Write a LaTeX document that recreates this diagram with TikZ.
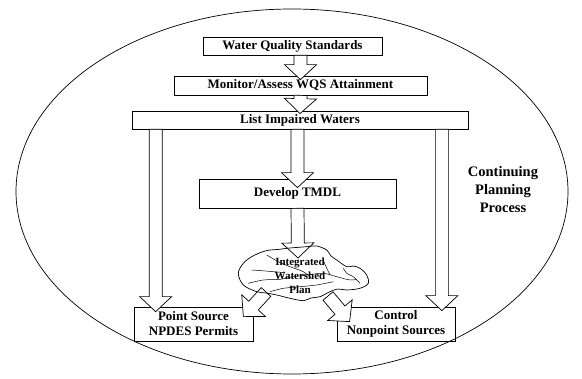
\documentclass[tikz,border=0pt]{standalone}
\usepackage{fontspec}
\setmainfont{Liberation Serif}
\usetikzlibrary{calc}

\begin{document}
\begin{tikzpicture}[x=1pt, y=-1pt, line width=0.7pt,
    box/.style={draw, rectangle, inner sep=0pt, align=center, font=\fontsize{13}{15}\selectfont\bfseries},
    fat/.style={draw, fill=white, line join=miter, to path={
        let \p1=($(\tikztotarget)-(\tikztostart)$), \n1={atan2(\y1,\x1)}, \n2={veclen(\x1,\y1)} in
        ([shift={(\tikztostart)}, rotate=\n1]0pt,-6.5pt)
        -- ([shift={(\tikztostart)}, rotate=\n1]\n2-15pt,-6.5pt)
        -- ([shift={(\tikztostart)}, rotate=\n1]\n2-15pt,-16pt)
        -- ([shift={(\tikztostart)}, rotate=\n1]\n2,0pt)
        -- ([shift={(\tikztostart)}, rotate=\n1]\n2-15pt,16pt)
        -- ([shift={(\tikztostart)}, rotate=\n1]\n2-15pt,6.5pt)
        -- ([shift={(\tikztostart)}, rotate=\n1]0pt,6.5pt) -- cycle}}]
    \useasboundingbox (0,0) rectangle (582,379);
    \draw (292,191.5) ellipse [x radius=276pt, y radius=182.5pt];

    \node[box, minimum width=179pt, minimum height=18pt] (wqs) at (292.5,46) {Water Quality Standards};
    \node[box, minimum width=253pt, minimum height=19pt] (mon) at (300.5,85.5) {Monitor/Assess WQS Attainment};
    \node[box, minimum width=336pt, minimum height=18pt] (liw) at (300,120) {List Impaired Waters};
    \node[box, minimum width=197pt, minimum height=29pt] (tmdl) at (297.5,193.5) {Develop TMDL};
    \node[box, minimum width=119pt, minimum height=34pt] (ps) at (193.5,324) {Point Source\\NPDES Permits};
    \node[box, minimum width=118pt, minimum height=34pt] (nps) at (396,324) {Control\\Nonpoint Sources};

    \coordinate (wst) at (298,258);
    \coordinate (wsl) at (266,292);
    \coordinate (wsr) at (328,296);

    \draw[fat] (wqs.south -| mon.north) to ([yshift=-4pt]mon.north);
    \draw[fat] (mon.south) to ([yshift=-3pt]liw.north);
    \draw[fat] (liw.south -| tmdl.north) to ([yshift=-9pt]tmdl.north);
    \draw[fat] (tmdl.south) to (wst);
    \draw[fat] ([xshift=24pt]liw.south west) to ([xshift=22pt, yshift=-5pt]ps.north west);
    \draw[fat] ([xshift=-26.5pt]liw.south east) to ([xshift=-13.5pt, yshift=-4pt]nps.north east);
    \draw[fat] (wsl) to ([xshift=-10pt, yshift=-10pt]ps.north east);
    \draw[fat] (wsr) to ([xshift=13pt, yshift=-15pt]nps.north west);

    % watershed outline and streams
    \draw plot[smooth cycle, tension=0.55] coordinates {(251.7,256.7) (262,252) (270,250) (278,249.5) (286.7,248.3)
        (296,247.5) (306.7,246.7) (316.7,246) (326.7,250) (331,256) (336.7,260) (346.7,266.7) (353,266) (360,268.3)
        (366.7,275) (368.3,283.3) (360,288.3) (346.7,290) (338,289) (330,291.7) (320,296.7) (311,298) (303.3,300.7)
        (290,298.3) (276.7,295) (266,293) (256.7,291.7) (243.3,285) (238.3,273.3) (243.3,263.3)};
    \draw[line width=0.5pt] plot[smooth] coordinates {(251.7,270) (261.7,270.7) (273.3,271.7) (285,272.7)};
    \draw[line width=0.5pt] plot[smooth] coordinates {(248.3,283.3) (263.3,280) (280,279.3) (293.3,276.7)
        (306.7,275) (323.3,273.3) (336.7,276.7) (350,280) (356.7,279.3)};
    \draw[line width=0.5pt] plot[smooth] coordinates {(266.7,255) (278.3,261.7) (290,266.7) (303.3,271.7) (311.7,278.3)};
    \draw[line width=0.5pt] plot[smooth] coordinates {(323.3,260) (326,266.7) (330,275)};
    \draw[line width=0.5pt] plot[smooth] coordinates {(343.3,268.3) (346.7,273.3) (353.3,276.7) (360,283.3)};
    \draw[line width=0.5pt] plot[smooth] coordinates {(270,291.7) (283.3,288.3) (300,286.7) (316.7,285) (333.3,281.7)};

    \node[align=center, inner sep=0pt, font=\fontsize{11}{14}\selectfont\bfseries] (iwp) at (300,276) {Integrated\\Watershed\\Plan};
    \node[align=center, inner sep=0pt, font=\fontsize{14.5}{18}\selectfont\bfseries] (cpp) at (503,190) {Continuing\\Planning\\Process};
\end{tikzpicture}
\end{document}
